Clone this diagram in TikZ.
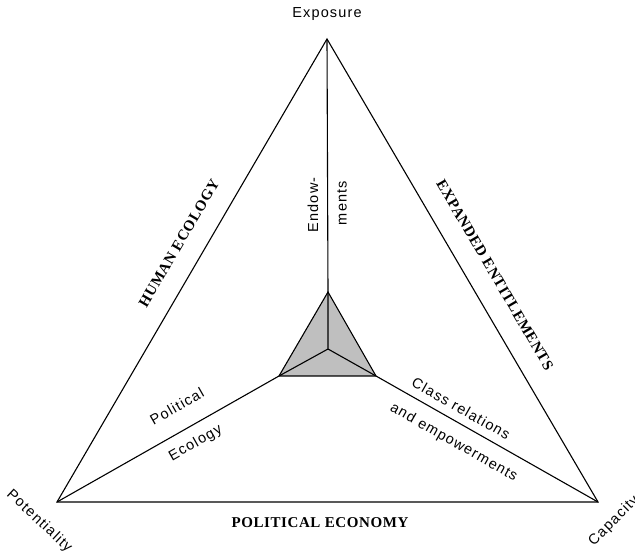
\documentclass[tikz,border=0pt]{standalone}
\usepackage{fontspec}
\setmainfont{Liberation Serif}
\setsansfont{Liberation Sans}
\newfontfamily\labfont[LetterSpace=8]{Liberation Sans}
\newfontfamily\themefont[LetterSpace=4]{Liberation Serif}
\tikzset{
	lab/.style={font=\labfont\fontsize{14.5}{16}\selectfont, inner sep=0pt},
	theme/.style={font=\themefont\bfseries\fontsize{15}{17}\selectfont, inner sep=0pt},
	edge/.style={line width=1.1pt, line join=miter},
}
\begin{document}
\begin{tikzpicture}[x=1pt, y=-1pt]
	\useasboundingbox (0,0) rectangle (635,553);
	% corners of the big triangle
	\coordinate (expo) at (327,39);
	\coordinate (pot) at (57,502);
	\coordinate (cap) at (598,502);
	% small triangle in the middle
	\coordinate (mid) at (328,349);
	\coordinate (itop) at (328,292);
	\coordinate (ileft) at (279,376);
	\coordinate (iright) at (376,376);

	\draw[edge, fill=black!25] (itop) -- (ileft) -- (iright) -- cycle;
	\draw[edge] (mid) -- (itop) (mid) -- (ileft) (mid) -- (iright);
	\draw[edge] (expo) -- (pot) -- (cap) -- cycle;
	\draw[edge] (itop) -- (expo);
	\draw[edge] (ileft) -- (pot);
	\draw[edge] (iright) -- (cap);

	\node[lab] (exposure) at (327,14) {Exposure};
	\node[lab, rotate=-43, anchor=east] (potentiality) at (70,550) {Potentiality};
	\node[lab, rotate=45, anchor=west] (capacity) at (591,544) {Capacity};

	\node[theme, rotate=59.7] (humeco) at (179,243) {HUMAN ECOLOGY};
	\node[theme, rotate=-59.7] (expent) at (495,275) {EXPANDED ENTITLEMENTS};
	\node[theme] (poleco) at (320,523) {POLITICAL ECONOMY};

	\node[lab, rotate=90] (endow) at (313,205) {Endow-};
	\node[lab, rotate=90] (ments) at (342,203) {ments};
	\node[lab, rotate=29.6, anchor=west] (political) at (151,421) {Political};
	\node[lab, rotate=29.6, anchor=west] (ecology) at (170,458) {Ecology};
	\node[lab, rotate=-29.6, anchor=west] (classrel) at (413,381) {Class relations};
	\node[lab, rotate=-29.6, anchor=west] (empower) at (391,407) {and empowerments};
\end{tikzpicture}
\end{document}
